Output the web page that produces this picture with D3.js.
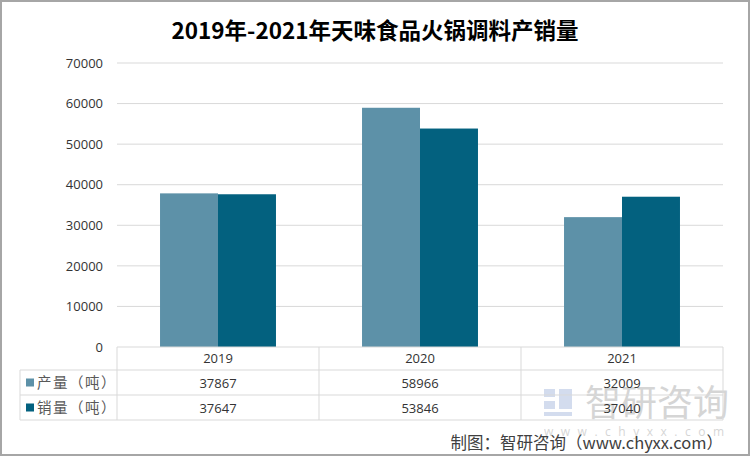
<!DOCTYPE html>
<html><head><meta charset="utf-8">
<script src="https://cdn.jsdelivr.net/npm/d3@7/dist/d3.min.js"></script>
<style>body{margin:0;background:#fff}svg{display:block}</style>
</head><body>
<svg id="c" width="750" height="456"></svg>
<script>
const title = "2019年-2021年天味食品火锅调料产销量";
const years = ["2019", "2020", "2021"];
const seriesNames = ["产量（吨）", "销量（吨）"];
const production = [37867, 58966, 32009];
const sales = [37647, 53846, 37040];
const yTicks = [0, 10000, 20000, 30000, 40000, 50000, 60000, 70000];
const colors = ["#5d91a8", "#03617f"];

(function(){
const svg = d3.select("#c");
const pL = 117, pR = 723, pT = 63, pB = 347;
const font = "'Open Sans','Noto Sans CJK SC',sans-serif";
const cjk = "'Noto Sans CJK SC',sans-serif";

svg.append("rect").attr("x",1).attr("y",1).attr("width",748).attr("height",454)
  .attr("fill","#fff").attr("stroke","#a6a6a6").attr("stroke-width",2);

svg.append("text").attr("x",375).attr("y",39).attr("text-anchor","middle")
  .attr("font-family",cjk).attr("font-weight","bold")
  .attr("font-size",22.5).attr("fill","#000").text(title);

const y = d3.scaleLinear().domain([0,70000]).range([pB, pT]);
const x0 = d3.scaleBand().domain(years).range([pL, pR]);
const bw = x0.bandwidth();
const x1 = d3.scaleBand().domain(seriesNames).range([bw*0.213, bw*0.787]);

svg.append("g").selectAll("line").data(yTicks.filter(d=>d>0)).join("line")
  .attr("x1",pL).attr("x2",pR).attr("y1",d=>y(d)).attr("y2",d=>y(d))
  .attr("stroke","#d9d9d9").attr("stroke-width",1);

const yAxis = d3.axisLeft(y).tickValues(yTicks).tickSize(0).tickPadding(14).tickFormat(d3.format("d"));
const ya = svg.append("g").attr("transform",`translate(${pL},0)`).call(yAxis);
ya.select(".domain").remove();
ya.selectAll("text").attr("font-family",font).attr("font-size",13).attr("fill","#333");

const data = [production, sales];
const g = svg.append("g");
seriesNames.forEach((s, si) => {
  g.selectAll(".b"+si).data(years).join("rect")
    .attr("x", d => x0(d) + x1(s))
    .attr("width", x1.bandwidth())
    .attr("y", (d,i) => y(data[si][i]))
    .attr("height", (d,i) => y(0) - y(data[si][i]))
    .attr("fill", colors[si]);
});

// watermark (behind table text)
const wm = svg.append("g").attr("opacity",0.3);
wm.append("rect").attr("x",544).attr("y",389).attr("width",11).attr("height",8).attr("fill","#6f8fc8");
wm.append("rect").attr("x",544).attr("y",401).attr("width",11).attr("height",8).attr("fill","#6f8fc8");
wm.append("rect").attr("x",544).attr("y",412).attr("width",28).attr("height",4).attr("fill","#6f8fc8");
wm.append("rect").attr("x",559).attr("y",389).attr("width",13).attr("height",20).attr("fill","#6f8fc8");
wm.append("text").attr("x",585).attr("y",416).attr("font-family",cjk)
  .attr("font-size",36).attr("fill","#777").text("智研咨询");
wm.append("text").attr("x",544).attr("y",436).attr("font-family",font)
  .attr("font-size",12).attr("fill","#777").attr("textLength",180).attr("lengthAdjust","spacing")
  .text("www.chyxx.com");

const rowH = [347, 370, 395, 420];
const tl = 20;
const tg = svg.append("g").attr("stroke","#d9d9d9").attr("stroke-width",1);
tg.append("line").attr("x1",pL).attr("x2",pR).attr("y1",rowH[0]).attr("y2",rowH[0]);
[1,2,3].forEach(r => tg.append("line").attr("x1",tl).attr("x2",pR).attr("y1",rowH[r]).attr("y2",rowH[r]));
tg.append("line").attr("x1",tl).attr("x2",tl).attr("y1",rowH[1]).attr("y2",rowH[3]);
years.forEach(yr => tg.append("line").attr("x1",x0(yr)).attr("x2",x0(yr)).attr("y1",rowH[0]).attr("y2",rowH[3]));
tg.append("line").attr("x1",pR).attr("x2",pR).attr("y1",rowH[0]).attr("y2",rowH[3]);

svg.append("g").selectAll("text").data(years).join("text")
  .attr("x", d => x0(d) + bw/2).attr("y", 363).attr("text-anchor","middle")
  .attr("font-family",font).attr("font-size",13).attr("fill","#333").text(d=>d);

seriesNames.forEach((s, si) => {
  const cy = (rowH[si+1] + rowH[si+2]) / 2;
  svg.append("rect").attr("x",26).attr("y",cy-4).attr("width",8).attr("height",8).attr("fill",colors[si]);
  svg.append("text").attr("x",37).attr("y",cy+5).attr("font-family",cjk)
    .attr("font-size",14.5).attr("fill","#595959").attr("letter-spacing",1.5).text(s);
  svg.append("g").selectAll("text").data(years).join("text")
    .attr("x", d => x0(d) + bw/2).attr("y", cy+5).attr("text-anchor","middle")
    .attr("font-family",font).attr("font-size",13).attr("fill","#333")
    .text((d,i) => data[si][i]);
});

svg.append("text").attr("x",723).attr("y",449).attr("text-anchor","end")
  .attr("font-family",cjk).attr("font-size",16.5).attr("fill","#404040")
  .text("制图：智研咨询（www.chyxx.com）");
})();
</script>
</body></html>
